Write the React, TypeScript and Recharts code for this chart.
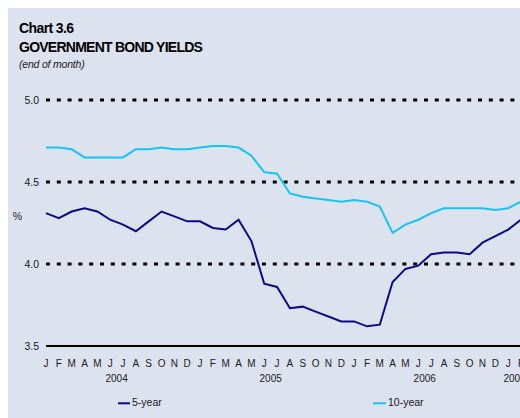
import React from 'react';
import { LineChart, Line, XAxis, YAxis, ReferenceLine } from 'recharts';

const monthLabels = [
  'J','F','M','A','M','J','J','A','S','O','N','D',
  'J','F','M','A','M','J','J','A','S','O','N','D',
  'J','F','M','A','M','J','J','A','S','O','N','D',
  'J','F',
];

const yearLabels = ['2004', '2005', '2006', '2007'];
const yearTicks = [5.5, 17.5, 29.5, 36.5];

const fiveYear = [
  4.31, 4.28, 4.32, 4.34, 4.32, 4.27, 4.24, 4.2, 4.26, 4.32, 4.29, 4.26,
  4.26, 4.22, 4.21, 4.27, 4.14, 3.88, 3.86, 3.73, 3.74, 3.71, 3.68, 3.65,
  3.65, 3.62, 3.63, 3.89, 3.97, 3.99, 4.06, 4.07, 4.07, 4.06, 4.13, 4.17,
  4.21, 4.27,
];

const tenYear = [
  4.71, 4.71, 4.7, 4.65, 4.65, 4.65, 4.65, 4.7, 4.7, 4.71, 4.7, 4.7,
  4.71, 4.72, 4.72, 4.71, 4.66, 4.56, 4.55, 4.43, 4.41, 4.4, 4.39, 4.38,
  4.39, 4.38, 4.35, 4.19, 4.24, 4.27, 4.31, 4.34, 4.34, 4.34, 4.34, 4.33,
  4.34, 4.38,
];

const yTicks = [3.5, 4.0, 4.5, 5.0];
const gridValues = [4.0, 4.5, 5.0];

const data = monthLabels.map((m, i) => ({
  i,
  month: m,
  five: fiveYear[i],
  ten: tenYear[i],
}));

const FONT = '"Liberation Sans", Arial, Helvetica, sans-serif';
const NAVY = '#0a0a8a';
const CYAN = '#14c4f6';
const BG = '#dde3ee';
const TEXT = '#1a1a1a';

export default function App() {
  const monthTicks = data.map((d) => d.i);
  return (
    <div
      style={{
        position: 'fixed',
        left: 8,
        top: 8,
        width: 512,
        height: 410,
        background: BG,
        overflow: 'hidden',
        fontFamily: FONT,
      }}
    >
      <LineChart
        width={520}
        height={410}
        data={data}
        margin={{ top: 92, right: 7, left: 0, bottom: 32 }}
      >
        <XAxis
          dataKey="i"
          type="number"
          domain={[0, 37]}
          ticks={monthTicks}
          interval={0}
          tickFormatter={(v: number) => monthLabels[v] ?? ''}
          axisLine={{ stroke: '#000', strokeWidth: 2 }}
          tickLine={false}
          tickSize={0}
          tickMargin={14}
          height={20}
          tick={{ fill: TEXT, fontSize: 10, fontFamily: FONT }}
        />
        <XAxis
          xAxisId="year"
          dataKey="i"
          type="number"
          domain={[0, 37]}
          ticks={yearTicks}
          interval={0}
          tickFormatter={(v: number) => yearLabels[yearTicks.indexOf(v)] ?? ''}
          axisLine={false}
          tickLine={false}
          tickSize={0}
          tickMargin={9}
          height={20}
          tick={{ fill: TEXT, fontSize: 10, fontFamily: FONT }}
        />
        <YAxis
          type="number"
          domain={[3.5, 5.0]}
          ticks={yTicks}
          tickFormatter={(v: number) => v.toFixed(1)}
          axisLine={false}
          tickLine={false}
          tickSize={0}
          tickMargin={7}
          width={38}
          tick={{ fill: TEXT, fontSize: 10.5, fontFamily: FONT }}
        />
        {gridValues.map((g) => (
          <ReferenceLine
            key={g}
            y={g}
            stroke="#000"
            strokeWidth={3}
            strokeDasharray="4 6.8"
          />
        ))}
        <Line
          dataKey="ten"
          stroke={CYAN}
          strokeWidth={2}
          dot={false}
          isAnimationActive={false}
        />
        <Line
          dataKey="five"
          stroke={NAVY}
          strokeWidth={2}
          dot={false}
          isAnimationActive={false}
        />
      </LineChart>
      <svg
        width={512}
        height={410}
        style={{ position: 'absolute', left: 0, top: 0, pointerEvents: 'none' }}
      >
        <text x={11} y={25} fontFamily={FONT} fontWeight="bold" fontSize={14} fill="#000" letterSpacing={-0.6}>
          Chart 3.6
        </text>
        <text x={11} y={44.3} fontFamily={FONT} fontWeight="bold" fontSize={14} fill="#000" letterSpacing={-0.75}>
          GOVERNMENT BOND YIELDS
        </text>
        <text x={11} y={59.5} fontFamily={FONT} fontStyle="italic" fontSize={10.5} fill={TEXT} letterSpacing={-0.2}>
          (end of month)
        </text>
        <text x={4.7} y={211.7} fontFamily={FONT} fontSize={10.5} fill={TEXT}>
          %
        </text>
        <line x1={110} x2={122} y1={395.3} y2={395.3} stroke={NAVY} strokeWidth={2} />
        <text x={124} y={397.8} fontFamily={FONT} fontSize={10.5} fill={TEXT}>
          5-year
        </text>
        <line x1={365} x2={378} y1={395.3} y2={395.3} stroke={CYAN} strokeWidth={2} />
        <text x={380} y={397.8} fontFamily={FONT} fontSize={10.5} fill={TEXT}>
          10-year
        </text>
      </svg>
    </div>
  );
}
